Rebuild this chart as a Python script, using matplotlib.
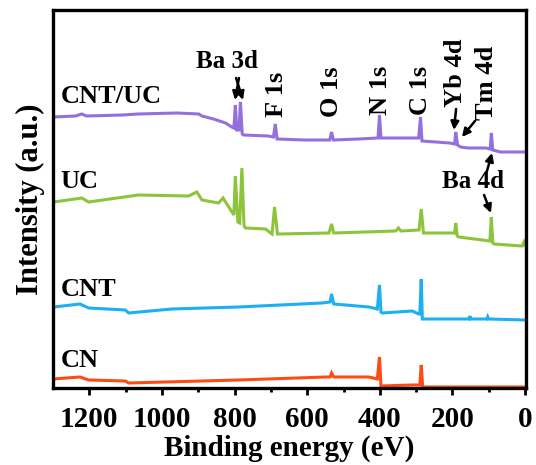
import matplotlib
matplotlib.use("Agg")
import matplotlib.pyplot as plt

plt.rcParams['font.family'] = ['Liberation Serif', 'DejaVu Serif']
plt.rcParams['font.weight'] = 'bold'

# XPS survey spectra (binding energy in eV, offset intensity in a.u.)
cntuc_e = [1298, 1238, 1221, 1208, 1108, 1065, 958, 899, 890, 858, 825, 808, 802, 798, 794, 788, 784, 779,
           775, 708, 693, 688, 683, 608, 538, 533, 528, 458, 405, 401, 397, 338, 293, 288, 284, 208, 194,
           191, 186, 178, 158, 108, 96, 93, 89, 68, 0]
cntuc_i = [271, 272, 274, 272, 273, 274, 275, 274, 272, 269, 265, 261, 260, 283, 258, 258, 286, 254,
           253, 252, 251, 264, 249, 248, 248, 256, 248, 249, 250, 273, 250, 250, 250, 271, 247, 245, 244,
           256, 243, 241, 240, 240, 239, 255, 238, 236, 236]

uc_e = [1298, 1221, 1202, 1065, 927, 904, 890, 844, 832, 816, 802, 798, 791, 786, 780, 774, 770, 715,
        697, 690, 682, 678, 540, 533, 527, 356, 349, 342, 292, 286, 280, 200, 194, 191, 187, 183, 118,
        97, 93, 89, 85, 8, 3, 0]
uc_i = [186, 190, 186, 193, 192, 196, 188, 185, 190, 181, 173, 212, 166, 165, 220, 162, 160, 159,
        154, 181, 154, 154, 155, 164, 155, 157, 160, 157, 158, 179, 155, 155, 155, 165, 152, 151, 148,
        147, 171, 145, 144, 142, 146, 143]

cnt_e = [1298, 1226, 1202, 1101, 1092, 973, 789, 559, 537, 533, 527, 430, 407, 401, 397, 393, 311, 293,
         290, 286, 283, 154, 152, 150, 105, 103, 101, 0]
cnt_i = [81, 84, 80, 78, 75, 79, 81, 85, 86, 94, 84, 81, 79, 103, 76, 75, 77, 74,
         74, 109, 69, 69, 72, 69, 69, 71, 69, 68]

cn_e = [1298, 1226, 1202, 1101, 1092, 789, 548, 537, 533, 527, 430, 407, 401, 397, 311, 290, 286, 282, 0]
cn_i = [9, 11, 8, 7, 5, 8, 11, 11, 15, 11, 11, 9, 31, 2, 3, 3, 23, 1, 1]

series = [
    ('CNT/UC', cntuc_e, cntuc_i, '#9370DB', 291),
    ('UC', uc_e, uc_i, '#8CC43C', 206),
    ('CNT', cnt_e, cnt_i, '#1CB0F0', 98),
    ('CN', cn_e, cn_i, '#FF4A14', 27),
]

fig = plt.figure(figsize=(5.36, 4.65), dpi=100)
ax = fig.add_axes([0.099, 0.1656, 0.882, 0.8129])

for name, e, i, c, ly in series:
    ax.plot(e, i, color=c, lw=2.2, solid_joinstyle='miter')
    ax.text(1279, ly, name, fontsize=19, fontweight='bold', ha='left', va='center')

# peak labels
ax.text(821, 326, 'Ba 3d', fontsize=18, fontweight='bold', ha='center', va='center')
vlabels = [('F 1s', 686, 271), ('O 1s', 534, 271), ('N 1s', 399, 273),
           ('C 1s', 287, 273), ('Yb 4d', 193, 281), ('Tm 4d', 105, 268)]
for t, x, y in vlabels:
    ax.text(x, y, t, fontsize=19, fontweight='bold', rotation=90, ha='center', va='bottom')
ax.text(143, 206, 'Ba 4d', fontsize=18, fontweight='bold', ha='center', va='center')

arrow = dict(arrowstyle='-|>', color='k', lw=1.8, mutation_scale=12, shrinkA=0, shrinkB=0)
arrows = [((788, 310), (799, 288)), ((796, 310), (777, 288)),
          ((190, 279), (196, 258)), ((138, 267), (174, 251)),
          ((105, 217), (91, 235)), ((113, 193), (94, 175))]
for start, end in arrows:
    ax.annotate('', xy=end, xytext=start, arrowprops=arrow)

ax.set_xlim(1300, -2)
ax.set_ylim(0, 378)
ax.set_xticks([1200, 1000, 800, 600, 400, 200, 0])
ax.set_xticks([1100, 900, 700, 500, 300, 100], minor=True)
ax.set_yticks([])
ax.tick_params(axis='x', which='major', direction='out', length=5, width=2, labelsize=21, pad=8)
ax.tick_params(axis='x', which='minor', direction='out', length=3, width=2)
for lab in ax.get_xticklabels():
    lab.set_fontweight('bold')
for s in ax.spines.values():
    s.set_linewidth(2.4)

ax.set_xlabel('Binding energy (eV)', fontsize=21, fontweight='bold', labelpad=1)
ax.set_ylabel('Intensity (a.u.)', fontsize=22, fontweight='bold', labelpad=6)

fig.savefig('out.png', dpi=100)
